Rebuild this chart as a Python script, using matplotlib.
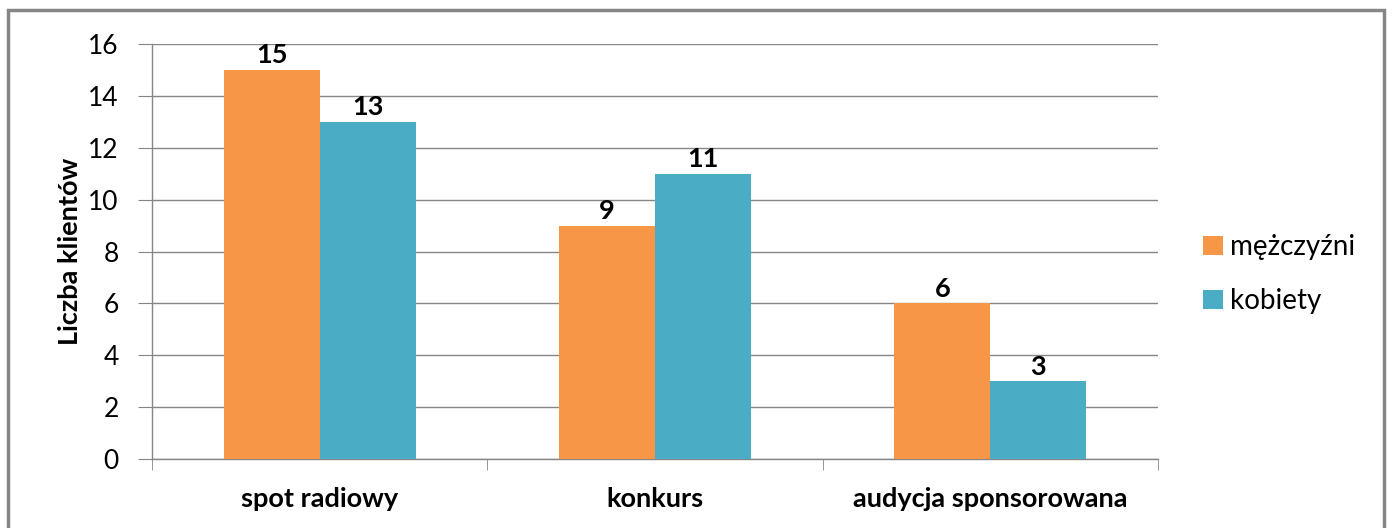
import numpy as np
import matplotlib as mpl
mpl.use('Agg')
import matplotlib.pyplot as pp
from matplotlib.patches import Rectangle

categories = ['spot radiowy', 'konkurs', 'audycja sponsorowana']
men = [15, 9, 6]
women = [13, 11, 3]
series_names = ['mężczyźni', 'kobiety']
yticks = [0, 2, 4, 6, 8, 10, 12, 14, 16]

pp.rcParams['font.family'] = ['Lato', 'DejaVu Sans']

fig = pp.figure(figsize=(13.92, 5.28), dpi=100)
ax = fig.add_axes([152 / 1392, 1 - 459 / 528, (1158 - 152) / 1392, (459 - 44) / 528])

grey = '#868686'
orange = '#F79646'
blue = '#4BACC6'
w = 0.286

x = np.arange(len(categories))
b1 = ax.bar(x - w / 2, men, w, color=orange, label=series_names[0], zorder=3)
b2 = ax.bar(x + w / 2, women, w, color=blue, label=series_names[1], zorder=3)

for bars in (b1, b2):
    for r in bars:
        ax.text(r.get_x() + r.get_width() / 2, r.get_height() + 0.1, '%d' % r.get_height(),
                ha='center', va='bottom', fontsize=19.5, fontweight='bold', color='black')

ax.set_xlim(-0.5, 2.5)
ax.set_ylim(0, 16)
ax.set_yticks(yticks)
ax.yaxis.grid(True, color=grey, lw=1, zorder=0)
ax.set_axisbelow(True)
ax.tick_params(axis='y', length=10, color=grey, labelsize=19, pad=14, direction='out')
ax.set_xticks(x)
ax.set_xticklabels(categories, fontsize=19.5, fontweight='bold')
ax.tick_params(axis='x', length=0, pad=20)
ax.set_xticks([-0.5, 0.5, 1.5, 2.5], minor=True)
ax.tick_params(axis='x', which='minor', length=8, color=grey)

for s in ['top', 'right']:
    ax.spines[s].set_visible(False)
for s in ['left', 'bottom']:
    ax.spines[s].set_color(grey)
    ax.spines[s].set_linewidth(1)

ax.set_ylabel('Liczba klientów', fontsize=19.5, fontweight='bold', labelpad=4)

ax.legend(loc='center left', bbox_to_anchor=(1.045, 0.445), frameon=False, fontsize=20,
          handlelength=0.7, handleheight=0.7, handletextpad=0.25, labelspacing=1.0,
          borderpad=0, borderaxespad=0)

fig.patches.append(Rectangle((8 / 1392, -0.05), (1384 - 8) / 1392, 1.05 - 10 / 528,
                             transform=fig.transFigure, fill=False, ec=grey, lw=2.5))

fig.savefig('out.png', dpi=100)
